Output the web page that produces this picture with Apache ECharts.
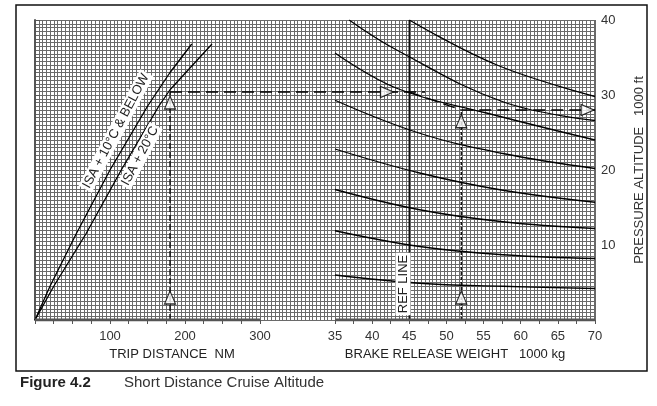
<!DOCTYPE html>
<html>
<head>
<meta charset="utf-8">
<script src="https://cdn.jsdelivr.net/npm/echarts@6/dist/echarts.min.js"></script>
<style>html,body{margin:0;padding:0;background:#fff}#main{width:657px;height:406px}</style>
</head>
<body>
<div id="main"></div>
<script>
// trip distance lines (NM, 1000 ft)
var isa10 = [[0,0],[20,4.5],[55,11.5],[100,20],[150,28.5],[180,33],[209,36.8]];
var isa20 = [[0,0],[25,4.5],[68,11.5],[115,20],[165,28.5],[180,30.7],[236,36.8]];
// weight curves (1000 kg, 1000 ft)
var wCurves = [
    [[45,40],[56.8,34],[70,29.8]],
    [[36.9,40],[43.3,36],[57.6,29.1],[70,26.6]],
    [[35,35.6],[43.3,30.9],[55.4,27.6],[70,24]],
    [[35,29.3],[46.4,24.9],[57.6,22.2],[70,20.2]],
    [[35,22.8],[46.4,19.6],[57.6,17.3],[70,15.7]],
    [[35,17.4],[46.4,14.7],[57.6,13.1],[70,12.2]],
    [[35,11.9],[46.4,9.8],[57.6,8.7],[70,8.2]],
    [[35,6],[46.4,4.9],[57.6,4.5],[70,4.2]]
];
var refLine = [[45,0],[45,40]];
var distTicks = [0,25,50,75,100,125,150,175,200,225,250,275,300];
var distLabels = [100,200,300];
var wTicks = [35,37.5,40,42.5,45,47.5,50,52.5,55,57.5,60,62.5,65,67.5,70];
var wLabels = [35,40,45,50,55,60,65,70];
var altTicks = [5,10,15,20,25,30,35,40];
var altLabels = [10,20,30,40];
// example path
var exDistUp = [[180,0],[180,30.4]];
var exAcross = [[180,30.4],[520,30.4]];
var exAlongW = [[45,30.4],[52,28]];
var exAcrossW = [[52,28],[70,28]];
var exUpW = [[52,0],[52,28]];

var font = 'Liberation Sans, Arial, sans-serif';
var chart = echarts.init(document.getElementById('main'));

function curve(data, xi, sm){
    return {type:'line', xAxisIndex:xi, yAxisIndex:0, data:data, smooth:sm, symbol:'none',
        lineStyle:{color:'#000', width:1.3}, z:5};
}
function dashed(data, xi, dash){
    return {type:'line', xAxisIndex:xi, yAxisIndex:0, data:data, symbol:'none',
        lineStyle:{color:'#000', width:1.3, type:dash}, z:6};
}
function arrows(data, xi, rot){
    return {type:'scatter', xAxisIndex:xi, yAxisIndex:0, data:data, symbol:'triangle', symbolSize:[11,13],
        symbolRotate:rot, itemStyle:{color:'#fff', borderColor:'#000', borderWidth:1.2}, z:8};
}

var series = [
    curve(isa10, 0, false), curve(isa20, 0, false),
    {type:'line', xAxisIndex:1, yAxisIndex:0, data:refLine, symbol:'none', lineStyle:{color:'#111', width:1.5}, z:5},
    {type:'line', xAxisIndex:0, yAxisIndex:0, data:[[0,0],[300,0]], symbol:'none', lineStyle:{color:'#555', width:3}, z:7},
    {type:'line', xAxisIndex:1, yAxisIndex:0, data:[[35,0],[70,0]], symbol:'none', lineStyle:{color:'#555', width:3}, z:7},
    dashed(exDistUp, 0, [6,3]), dashed(exAcross, 0, [12,6]),
    dashed(exAlongW, 1, [12,6]), dashed(exAcrossW, 1, [12,6]), dashed(exUpW, 1, [3,2]),
    arrows([[180,3],[180,29]], 0, 0),
    arrows([[52,3],[52,26.5]], 1, 0),
    arrows([[42,30.4],[69,28]], 1, -90)
];
wCurves.forEach(function(c){ series.push(curve(c, 1, 0.4)); });

var txt = {fontFamily:font, fill:'#222', fontSize:13};
chart.setOption({
    animation:false,
    grid:{left:35, right:62, top:20, bottom:86},
    xAxis:[
        {type:'value', min:0, max:746.67, position:'bottom',
            axisLine:{show:false}, splitLine:{show:false},
            axisTick:{customValues:distTicks, length:4, lineStyle:{color:'#555'}},
            axisLabel:{customValues:distLabels, color:'#333', fontFamily:font, fontSize:13, margin:10}},
        {type:'value', min:-5.385, max:70, position:'bottom',
            axisLine:{show:false}, splitLine:{show:false},
            axisTick:{customValues:wTicks, length:4, lineStyle:{color:'#555'}},
            axisLabel:{customValues:wLabels, color:'#333', fontFamily:font, fontSize:13, margin:10}},
        {type:'value', min:0, max:560, interval:3.75, show:true,
            axisLine:{show:false}, axisTick:{show:false}, axisLabel:{show:false},
            splitLine:{lineStyle:{color:'#6a6a6a', width:1}}}
    ],
    yAxis:[
        {type:'value', min:0, max:40, position:'right',
            axisLine:{show:true, lineStyle:{color:'#555', width:2}}, splitLine:{show:false},
            axisTick:{customValues:altTicks, length:5, inside:false, lineStyle:{color:'#555'}},
            axisLabel:{customValues:altLabels, color:'#333', fontFamily:font, fontSize:13, margin:6},
            name:'PRESSURE ALTITUDE   1000 ft', nameLocation:'middle', nameRotate:90, nameGap:38,
            nameTextStyle:{color:'#333', fontFamily:font, fontSize:13}},
        {type:'value', min:0, max:40, interval:0.5, show:true,
            axisLine:{show:false}, axisTick:{show:false}, axisLabel:{show:false},
            splitLine:{lineStyle:{color:'#6a6a6a', width:1}}}
    ],
    series:series,
    graphic:[
        {type:'rect', shape:{x:16, y:5, width:631, height:366}, style:{fill:'none', stroke:'#111', lineWidth:1.5}, z:10},
        {type:'text', x:172, y:348, style:Object.assign({text:'TRIP DISTANCE  NM', align:'center'}, txt), z:10},
        {type:'text', x:455, y:348, style:Object.assign({text:'BRAKE RELEASE WEIGHT   1000 kg', align:'center'}, txt), z:10},
        {type:'text', x:20, y:375, style:{text:'Figure 4.2', fontFamily:font, fontWeight:'bold', fontSize:15, fill:'#222'}, z:10},
        {type:'text', x:124, y:375, style:{text:'Short Distance Cruise Altitude', fontFamily:font, fontSize:15, fill:'#333'}, z:10},
        {type:'text', x:116, y:131, rotation:Math.PI/180*62, z:20,
            style:Object.assign({text:'ISA + 10°C & BELOW', align:'center', verticalAlign:'middle', backgroundColor:'#fff', padding:[1,2]}, txt)},
        {type:'text', x:140, y:156, rotation:Math.PI/180*62, z:20,
            style:Object.assign({text:'ISA + 20°C', align:'center', verticalAlign:'middle', backgroundColor:'#fff', padding:[1,2]}, txt)},
        {type:'text', x:403, y:284, rotation:Math.PI/2, z:20,
            style:Object.assign({text:'REF LINE', align:'center', verticalAlign:'middle', backgroundColor:'#fff', padding:[1,2]}, txt)}
    ]
});
</script>
</body>
</html>
